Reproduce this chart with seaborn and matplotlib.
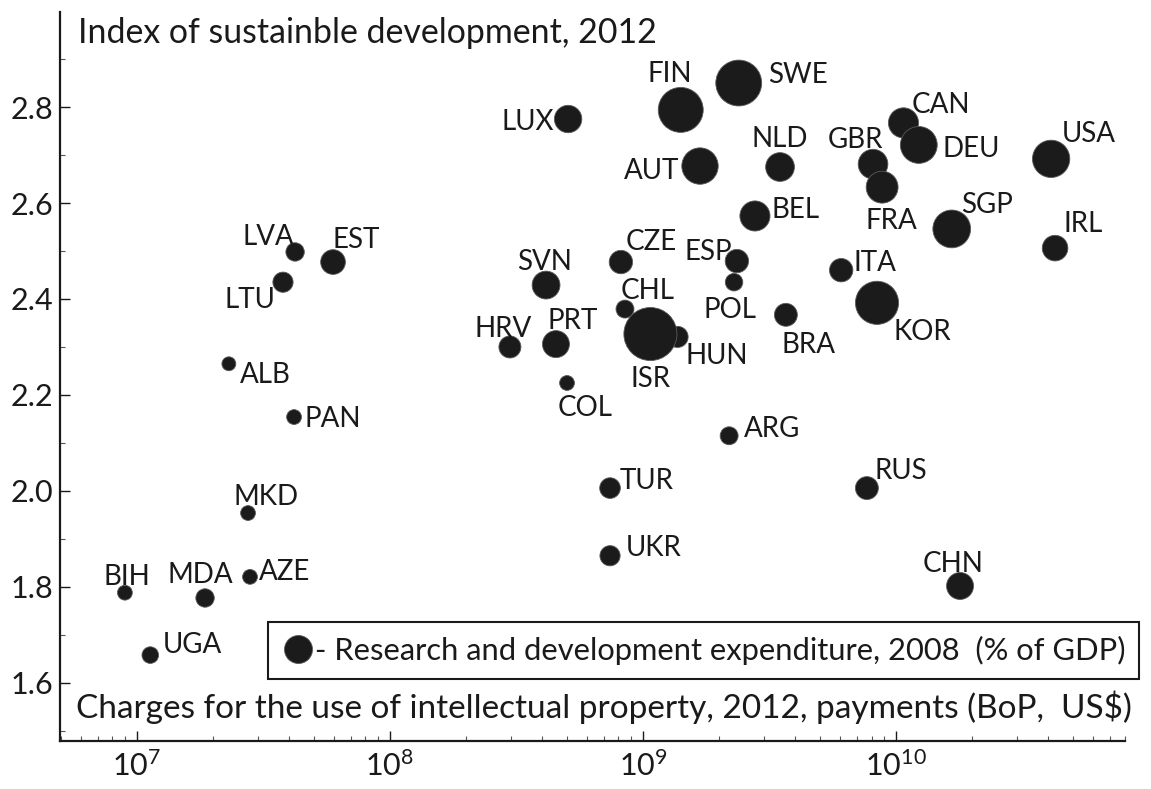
import numpy as np
import pandas as pd
import matplotlib
matplotlib.use("Agg")
import matplotlib.pyplot as plt
import seaborn as sns
from matplotlib.ticker import LogLocator, FixedLocator, MultipleLocator, NullFormatter
from matplotlib.lines import Line2D

# ---------------- data ----------------
countries = ["BIH", "MDA", "AZE", "UGA", "MKD", "ALB", "PAN", "LTU", "LVA", "EST",
             "LUX", "FIN", "SWE", "AUT", "NLD", "GBR", "FRA", "CAN", "DEU", "USA",
             "BEL", "SGP", "IRL", "ITA", "KOR", "BRA", "ESP", "POL", "CZE", "SVN",
             "CHL", "HRV", "PRT", "ISR", "HUN", "COL", "ARG", "TUR", "RUS", "UKR", "CHN"]

# Charges for the use of intellectual property, 2012, payments (BoP, US$)
ip_payments = [8.97e6, 1.86e7, 2.80e7, 1.13e7, 2.75e7, 2.31e7, 4.18e7, 3.78e7, 4.22e7, 5.96e7,
               5.06e8, 1.41e9, 2.39e9, 1.68e9, 3.48e9, 8.11e9, 8.81e9, 1.07e10, 1.23e10, 4.10e10,
               2.77e9, 1.66e10, 4.25e10, 6.07e9, 8.41e9, 3.67e9, 2.35e9, 2.29e9, 8.18e8, 4.14e8,
               8.49e8, 2.98e8, 4.53e8, 1.07e9, 1.37e9, 5.01e8, 2.19e9, 7.41e8, 7.67e9, 7.41e8, 1.79e10]

# Index of sustainable development, 2012
sust_index = [1.788, 1.777, 1.821, 1.658, 1.954, 2.265, 2.154, 2.435, 2.498, 2.477,
              2.775, 2.794, 2.850, 2.677, 2.675, 2.681, 2.633, 2.767, 2.721, 2.692,
              2.573, 2.546, 2.506, 2.460, 2.392, 2.367, 2.479, 2.435, 2.477, 2.429,
              2.379, 2.300, 2.306, 2.327, 2.321, 2.225, 2.115, 2.006, 2.006, 1.865, 1.802]

# Research and development expenditure, 2008 (% of GDP)
rd_expenditure = [0.20, 0.60, 0.20, 0.40, 0.20, 0.10, 0.20, 0.80, 0.60, 1.30,
                  1.60, 3.55, 3.65, 2.60, 1.75, 1.85, 2.10, 1.90, 2.65, 2.70,
                  1.90, 2.75, 1.40, 1.15, 3.35, 1.10, 1.15, 0.50, 1.15, 1.65,
                  0.55, 1.00, 1.55, 4.45, 0.90, 0.20, 0.55, 0.85, 1.10, 0.80, 1.55]

legend_label = "- Research and development expenditure, 2008  (% of GDP)"
y_title = "Index of sustainble development, 2012"
x_title = "Charges for the use of intellectual property, 2012, payments (BoP,  US$)"
y_tick_values = [1.6, 1.8, 2.0, 2.2, 2.4, 2.6, 2.8]

# ---------------- layout / style ----------------
# label centre offsets relative to the marker centre, in screen pixels (x right, y down)
LABEL_OFFSETS = {
    "BIH": (2, -18), "MDA": (-5, -25), "AZE": (35, -7), "UGA": (42, -12), "MKD": (18, -18),
    "ALB": (36, 9), "PAN": (39, 0), "LTU": (-33, 16), "LVA": (-27, -17), "EST": (23, -24),
    "LUX": (-40, 1), "FIN": (-11, -38), "SWE": (59, -10), "AUT": (-48, 3), "NLD": (0, -30),
    "GBR": (-18, -26), "FRA": (9, 32), "CAN": (37, -20), "DEU": (52, 2), "USA": (38, -27),
    "BEL": (41, -8), "SGP": (35, -26), "IRL": (28, -26), "ITA": (34, -9), "KOR": (45, 27),
    "BRA": (23, 28), "ESP": (-29, -11), "POL": (-4, 26), "CZE": (30, -22), "SVN": (-2, -25),
    "CHL": (23, -20), "HRV": (-7, -20), "PRT": (17, -25), "ISR": (0, 43), "HUN": (39, 17),
    "COL": (18, 23), "ARG": (43, -9), "TUR": (37, -9), "RUS": (34, -19), "UKR": (44, -10),
    "CHN": (-7, -24),
}
DPI = 100
W, H = 1151, 789
AX_L, AX_R, AX_T, AX_B = 60, 1125, 12, 741
TEXT_COLOR = "#1a1a1a"
DOT_COLOR = "#1b1b1b"
DOT_EDGE = "#5a5a5a"
FONT = "Lato"


def marker_diam_px(v):
    return 13 + 9 * v


sns.set_style("ticks")
plt.rcParams["font.family"] = [FONT, "DejaVu Sans"]
plt.rcParams["mathtext.fontset"] = "custom"
plt.rcParams["mathtext.rm"] = FONT
plt.rcParams["mathtext.it"] = FONT + ":italic"
plt.rcParams["mathtext.bf"] = FONT + ":bold"

fig = plt.figure(figsize=(W / DPI, H / DPI), dpi=DPI)
ax = fig.add_axes([AX_L / W, (H - AX_B) / H, (AX_R - AX_L) / W, (AX_B - AX_T) / H])
ax.set_xscale("log")

df = pd.DataFrame({"country": countries, "ip": ip_payments, "idx": sust_index, "rd": rd_expenditure})
df = df.sort_values("rd", kind="stable").reset_index(drop=True)
size_map = {v: (marker_diam_px(v) * 72 / DPI) ** 2 for v in df["rd"].unique()}

sns.scatterplot(data=df, x="ip", y="idx", size="rd", sizes=size_map, color=DOT_COLOR,
                edgecolor=DOT_EDGE, linewidth=0.6, legend=False, ax=ax, zorder=3)

for _, r in df.iterrows():
    dx, dy = LABEL_OFFSETS[r["country"]]
    ax.annotate(r["country"], (r["ip"], r["idx"]), xytext=(dx, -(dy + 10)),
                textcoords="offset pixels", ha="center", va="baseline",
                fontsize=20, color=TEXT_COLOR, zorder=4)

# axes limits
ax.set_xlim(4.97e6, 8.03e10)
ax.set_ylim(1.479, 2.998)

# ticks
ax.yaxis.set_major_locator(FixedLocator(y_tick_values))
ax.yaxis.set_minor_locator(MultipleLocator(0.1))
ax.yaxis.set_major_formatter(matplotlib.ticker.FormatStrFormatter("%.1f"))
ax.xaxis.set_major_locator(LogLocator(base=10))
ax.xaxis.set_minor_locator(LogLocator(base=10, subs=np.arange(2, 10)))
ax.xaxis.set_minor_formatter(NullFormatter())
ax.tick_params(which="major", direction="in", length=7, width=1.0, colors=TEXT_COLOR,
               labelsize=22, pad=5)
ax.tick_params(which="minor", direction="in", length=3.5, width=0.8, colors="#555555")
ax.tick_params(axis="x", which="major", pad=7)

for s in ["top", "right"]:
    ax.spines[s].set_visible(False)
for s in ["left", "bottom"]:
    ax.spines[s].set_linewidth(1.6)
    ax.spines[s].set_color(TEXT_COLOR)
ax.set_xlabel("")
ax.set_ylabel("")

# in-plot axis titles
ax.text(18 / (AX_R - AX_L), (AX_B - 43) / (AX_B - AX_T), y_title, transform=ax.transAxes,
        ha="left", va="baseline", fontsize=24.4, color=TEXT_COLOR)
ax.text(16 / (AX_R - AX_L), (AX_B - 718) / (AX_B - AX_T), x_title, transform=ax.transAxes,
        ha="left", va="baseline", fontsize=24, color=TEXT_COLOR)

# legend
handle = Line2D([], [], marker="o", linestyle="none", markersize=28 * 72 / DPI,
                markerfacecolor=DOT_COLOR, markeredgecolor=DOT_EDGE, markeredgewidth=0.6)
leg = ax.legend([handle], [legend_label], loc="lower right",
                bbox_to_anchor=(1139 / W, (H - 679) / H), bbox_transform=fig.transFigure,
                frameon=True, fancybox=False, handletextpad=0.05, handlelength=1.0,
                borderpad=0.45, borderaxespad=0, prop={"family": FONT, "size": 22.2})
leg.get_frame().set_edgecolor(TEXT_COLOR)
leg.get_frame().set_linewidth(1.5)
leg.get_frame().set_facecolor("white")
leg.get_frame().set_alpha(1)
for t in leg.get_texts():
    t.set_color(TEXT_COLOR)
leg.set_zorder(5)

fig.savefig("out.png", dpi=DPI)
